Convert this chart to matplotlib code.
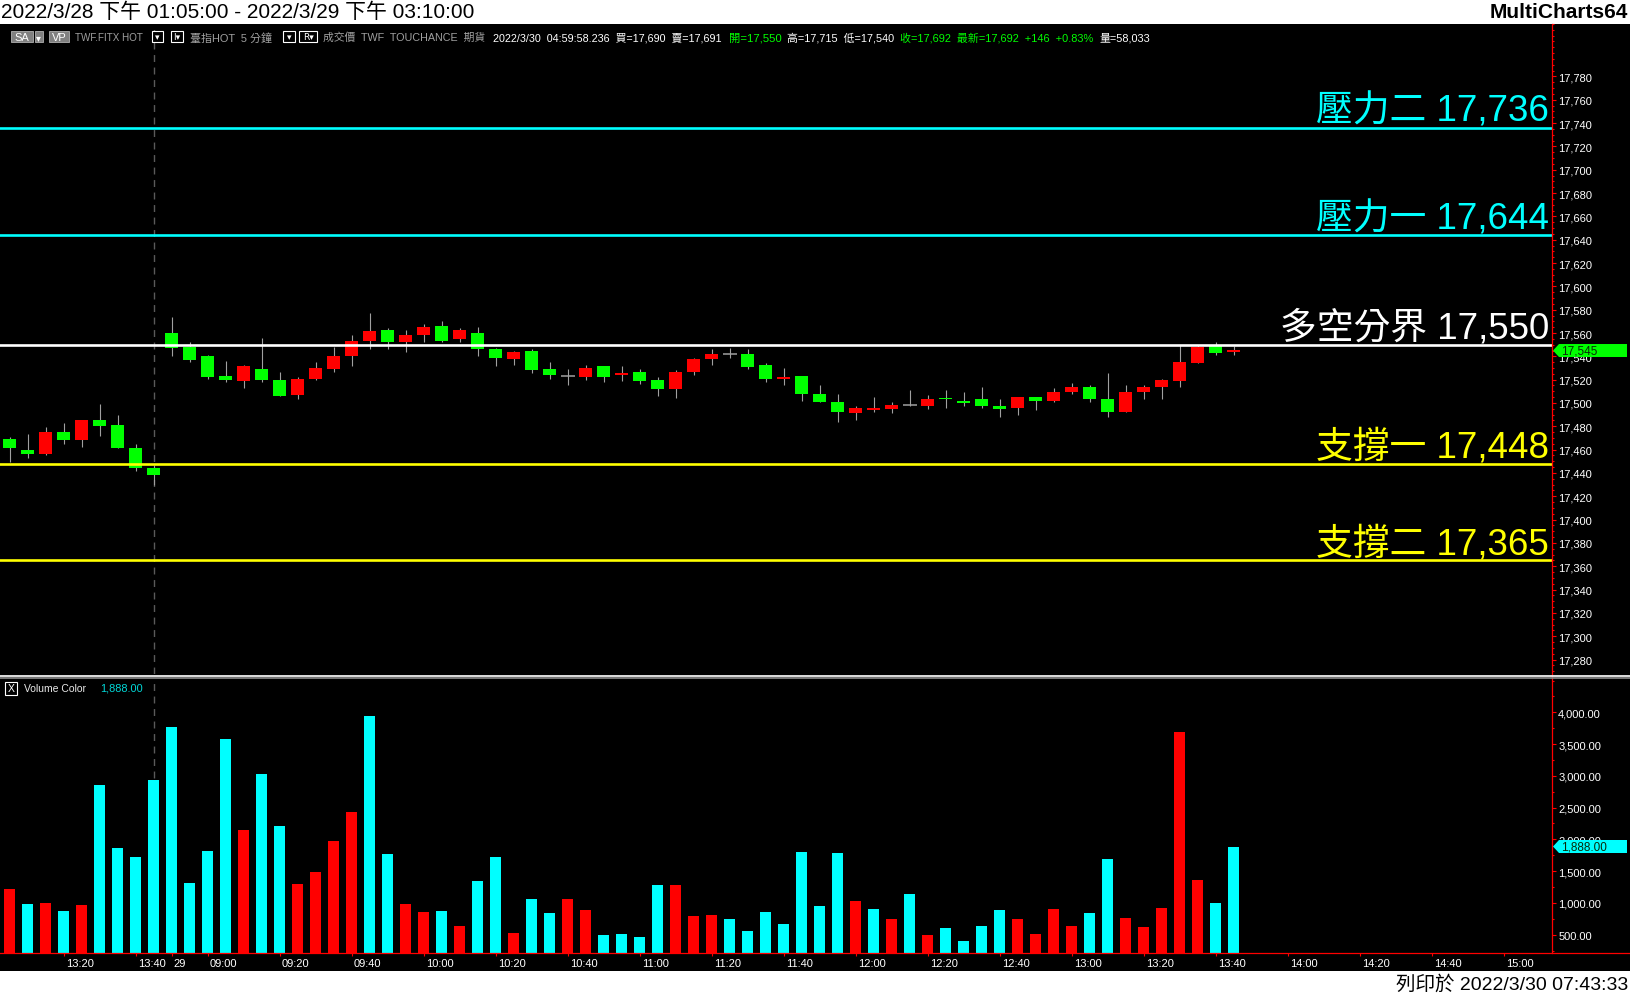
import numpy as np
import matplotlib
matplotlib.use("Agg")
import matplotlib.pyplot as plt
from matplotlib import font_manager
from matplotlib.patches import Rectangle, Polygon
from matplotlib.lines import Line2D
from matplotlib.ticker import MultipleLocator, FixedLocator, FuncFormatter

# 5-minute bars, 2022/3/28 13:05 .. 13:45, then 2022/3/29 08:50 .. 13:45
opens = [17469, 17460, 17456, 17475, 17468, 17485, 17481, 17461, 17444,
         17560, 17548, 17540, 17523, 17519, 17529, 17520, 17507, 17521, 17529,
         17540, 17553, 17563, 17552, 17558, 17566, 17555, 17560, 17546, 17538,
         17545, 17529, 17523, 17522, 17532, 17524, 17527, 17520, 17512, 17527,
         17538, 17542, 17542, 17533, 17521, 17523, 17508, 17501, 17491, 17494,
         17495, 17498, 17497, 17504, 17502, 17503, 17497, 17496, 17505, 17502,
         17509, 17514, 17503, 17492, 17509, 17514, 17519, 17534, 17549, 17544]
highs = [17471, 17473, 17479, 17483, 17485, 17499, 17490, 17465, 17447,
         17574, 17552, 17541, 17536, 17533, 17556, 17527, 17522, 17535, 17548,
         17558, 17577, 17564, 17563, 17568, 17570, 17564, 17565, 17547, 17545,
         17546, 17535, 17529, 17533, 17532, 17532, 17529, 17522, 17528, 17539,
         17546, 17547, 17546, 17534, 17530, 17523, 17515, 17508, 17497, 17505,
         17501, 17511, 17507, 17511, 17509, 17514, 17503, 17505, 17505, 17513,
         17517, 17515, 17526, 17515, 17515, 17521, 17550, 17550, 17552, 17549]
lows = [17449, 17453, 17455, 17465, 17462, 17472, 17461, 17442, 17430,
        17540, 17535, 17521, 17518, 17513, 17518, 17506, 17503, 17520, 17527,
        17532, 17546, 17546, 17544, 17552, 17552, 17552, 17540, 17532, 17533,
        17526, 17521, 17515, 17520, 17518, 17519, 17516, 17506, 17504, 17524,
        17533, 17539, 17529, 17518, 17515, 17502, 17501, 17484, 17485, 17492,
        17491, 17497, 17495, 17496, 17497, 17496, 17488, 17490, 17494, 17501,
        17508, 17501, 17488, 17492, 17503, 17503, 17514, 17534, 17541, 17541]
closes = [17461, 17456, 17475, 17468, 17485, 17480, 17461, 17444, 17438,
          17547, 17537, 17522, 17520, 17532, 17520, 17506, 17521, 17530, 17540,
          17553, 17562, 17552, 17558, 17565, 17553, 17563, 17546, 17539, 17544,
          17528, 17524, 17523, 17530, 17522, 17526, 17519, 17512, 17527, 17538,
          17542, 17542, 17531, 17521, 17522, 17508, 17501, 17492, 17496, 17496,
          17498, 17498, 17503, 17503, 17500, 17497, 17495, 17505, 17502, 17509,
          17514, 17503, 17492, 17509, 17514, 17520, 17535, 17548, 17543, 17545]
volumes = [1219, 983, 999, 873, 967, 2856, 1864, 1723, 2935,
           3769, 1314, 1817, 3580, 2148, 3029, 2211, 1298, 1487, 1975,
           2431, 3942, 1770, 983, 857, 873, 637, 1345, 1723, 527,
           1062, 841, 1062, 889, 495, 511, 464, 1282, 1282, 794,
           810, 747, 558, 857, 668, 1802, 952, 1786, 1030, 904,
           747, 1140, 495, 605, 401, 637, 889, 747, 511, 904,
           637, 841, 1691, 763, 621, 920, 3690, 1361, 999, 1888]
vol_up = [1, 0, 1, 0, 1, 0, 0, 0, 0,
          0, 0, 0, 0, 1, 0, 0, 1, 1, 1,
          1, 0, 0, 1, 1, 0, 1, 0, 0, 1,
          0, 0, 1, 1, 0, 0, 0, 0, 1, 1,
          1, 0, 0, 0, 0, 0, 0, 0, 1, 0,
          1, 0, 1, 0, 0, 0, 0, 1, 1, 1,
          1, 0, 0, 1, 1, 1, 1, 1, 0, 0]

tick_bars = [3, 7, 9, 11, 15, 19, 23, 27, 31, 35, 39, 43, 47, 51, 55, 59,
             63, 67, 71, 75, 79, 83]
tick_labels = ["13:20", "13:40", "29", "09:00", "09:20", "09:40", "10:00",
               "10:20", "10:40", "11:00", "11:20", "11:40", "12:00", "12:20",
               "12:40", "13:00", "13:20", "13:40", "14:00", "14:20", "14:40",
               "15:00"]
session_break = 8

levels = [17736, 17644, 17550, 17448, 17365]
level_names = ["壓力二", "壓力一", "多空分界", "支撐一", "支撐二"]
level_colors = ["#00ffff", "#00ffff", "#ffffff", "#ffff00", "#ffff00"]

last_price = 17545
last_volume = 1888.00

# ---- fonts ----
have = {f.name for f in font_manager.fontManager.ttflist}
NARROW = "Liberation Sans Narrow" if "Liberation Sans Narrow" in have else "Liberation Sans"
SMALL = [NARROW, "Noto Sans CJK TC", "DejaVu Sans"]
BIG = ["Liberation Sans", "Noto Sans CJK TC", "DejaVu Sans"]
plt.rcParams["font.family"] = SMALL

W, H = 1630, 995
fig = plt.figure(figsize=(W / 100, H / 100), dpi=100, facecolor="white")
renderer = fig.canvas.get_renderer()


def fx(px):
    return px / W


def fy(py):
    return 1 - py / H


def rect(x0, y0, x1, y1, **kw):
    fig.add_artist(Rectangle((fx(x0), fy(y1)), (x1 - x0) / W, (y1 - y0) / H,
                             transform=fig.transFigure, **kw))


def hline(y, x0, x1, **kw):
    fig.add_artist(Line2D([fx(x0), fx(x1)], [fy(y), fy(y)], transform=fig.transFigure, **kw))


def fit(t, width):
    # shrink a text until it fits the width it has in the reference
    bb = t.get_window_extent(renderer)
    if bb.width > width:
        t.set_fontsize(t.get_fontsize() * width / bb.width)
    return t


# black chart area
rect(0, 25, W, 972, facecolor="black", edgecolor="none", zorder=-5)

AX_R = 1552
ax = fig.add_axes([0, fy(675), AX_R / W, (675 - 25) / H])
axv = fig.add_axes([0, fy(954), AX_R / W, (954 - 680) / H])

x = np.arange(len(opens))
o = np.array(opens)
c = np.array(closes)
for a in (ax, axv):
    a.set_facecolor("black")
    for s in a.spines.values():
        s.set_visible(False)
    a.set_xlim(-0.54, 85.68)
    a.axvline(session_break, color="#5a5a5a", lw=1, dashes=(5, 4), zorder=1)

# ---- candles ----
ax.vlines(x, lows, highs, color="#a0a0a0", lw=0.8, zorder=2)
body = c != o
col = np.where(c > o, "#ff0000", "#00ff00")
ax.bar(x[body], np.maximum(np.abs(c - o), 1.5)[body], bottom=np.minimum(o, c)[body],
       width=0.72, color=col[body], linewidth=0, zorder=3)
doji = ~body
ax.hlines(o[doji], x[doji] - 0.39, x[doji] + 0.39, color="#a0a0a0", lw=1.1, zorder=3)

ax.set_ylim(17267.6, 17825.0)
ax.set_xticks([])
ax.yaxis.tick_right()
ax.yaxis.set_major_locator(FixedLocator(np.arange(17280, 17781, 20)))
ax.yaxis.set_minor_locator(MultipleLocator(5))
ax.yaxis.set_major_formatter(FuncFormatter(lambda v, p: f"{int(v):,}"))
ax.tick_params(axis="y", which="major", colors="red", labelcolor="white",
               length=3, width=0.8, pad=1.5, labelsize=8)
ax.tick_params(axis="y", which="minor", colors="red", length=1.5, width=0.8)

for lv, name, lc in zip(levels, level_names, level_colors):
    ax.axhline(lv, color=lc, lw=1.9, zorder=5)
    ax.annotate(f"{name} {lv:,}", xy=(1, lv), xycoords=("axes fraction", "data"),
                xytext=(-3, 7), textcoords="offset pixels", ha="right", va="baseline",
                fontsize=26.5, color=lc, family=BIG, zorder=6)

# ---- volume ----
vcol = ["#ff0000" if u else "#00ffff" for u in vol_up]
axv.bar(x, volumes, width=0.61, color=vcol, linewidth=0, zorder=2)
axv.set_ylim(212, 4524)
axv.yaxis.tick_right()
axv.yaxis.set_major_locator(FixedLocator(np.arange(500, 4001, 500)))
axv.yaxis.set_minor_locator(MultipleLocator(250))
axv.yaxis.set_major_formatter(FuncFormatter(lambda v, p: f"{v:,.2f}"))
axv.tick_params(axis="y", which="major", colors="red", labelcolor="white",
                length=3, width=0.8, pad=1.5, labelsize=8)
axv.tick_params(axis="y", which="minor", colors="red", length=1.5, width=0.8)
axv.set_xticks(tick_bars)
axv.tick_params(axis="x", colors="red", length=2.5, width=0.8, labelbottom=False)
for b, lab in zip(tick_bars, tick_labels):
    axv.annotate(lab, xy=(b, 0), xycoords=("data", "axes fraction"), xytext=(2, -10),
                 textcoords="offset pixels", ha="left", va="center", color="white",
                 fontsize=8, annotation_clip=False)

# ---- axis frame lines ----
fig.add_artist(Line2D([fx(AX_R), fx(AX_R)], [fy(25), fy(954)], color="red", lw=0.9,
                      transform=fig.transFigure))
hline(954, 0, W, color="red", lw=0.9)
hline(676.6, 0, W, color="#f0f0f0", lw=1.3)
hline(678.8, 0, W, color="#8c8c8c", lw=1.2)


# ---- last value markers ----
def marker(yc, text, color):
    pts = [(1553, yc), (1559, yc - 6.5), (1627, yc - 6.5), (1627, yc + 6.5), (1559, yc + 6.5)]
    fig.add_artist(Polygon([(fx(px), fy(py)) for px, py in pts], closed=True,
                           facecolor=color, edgecolor="none", transform=fig.transFigure,
                           zorder=10))
    fig.text(fx(1561), fy(yc), text, ha="left", va="center", fontsize=8.5,
             color="#0a2a0a", zorder=11)


yp = H - ax.transData.transform((0, last_price))[1]
marker(yp, f"{last_price:,}", "#00ff00")
yv = H - axv.transData.transform((0, last_volume))[1]
marker(yv, f"{last_volume:,.2f}", "#00ffff")

# ---- header texts ----
fig.text(fx(1), fy(12.5), "2022/3/28 下午 01:05:00 - 2022/3/29 下午 03:10:00",
         ha="left", va="center", fontsize=15, family=BIG, color="black")
fig.text(fx(1628), fy(12.5), "MultiCharts64", ha="right", va="center", fontsize=15,
         weight="bold", family=BIG, color="black")
fig.text(fx(1628), fy(984), "列印於 2022/3/30 07:43:33", ha="right", va="center",
         fontsize=14, family=BIG, color="black")

HY = 38
rect(10.7, 32.3, 33.3, 43.3, facecolor="#808080", edgecolor="#b0b0b0", lw=0.6)
fig.text(fx(22), fy(HY), "SA", ha="center", va="center", fontsize=8, color="white")
rect(34.5, 32.3, 43, 43.3, facecolor="#808080", edgecolor="#b0b0b0", lw=0.6)
fig.text(fx(38.8), fy(HY), "▾", ha="center", va="center", fontsize=7, color="white",
         family="DejaVu Sans")
rect(49, 32.3, 69, 43.3, facecolor="#808080", edgecolor="#b0b0b0", lw=0.6)
fig.text(fx(59), fy(HY), "VP", ha="center", va="center", fontsize=8, color="white")
for bx0, bx1, t in [(152, 163, "▾"), (171, 183, "I▾"), (283, 295, "▾"), (299, 317, "R▾")]:
    rect(bx0, 32.3, bx1, 43.3, facecolor="black", edgecolor="white", lw=0.8)
    fig.text(fx((bx0 + bx1) / 2), fy(HY), t, ha="center", va="center", fontsize=6.5,
             color="white", family="DejaVu Sans")
hdr = [
    (75, 143, "TWF.FITX HOT", "#a0a0a0"),
    (190, 273, "臺指HOT  5 分鐘", "#a0a0a0"),
    (323, 487, "成交價  TWF  TOUCHANCE  期貨", "#a0a0a0"),
    (493, 724, "2022/3/30  04:59:58.236  買=17,690  賣=17,691", "#ffffff"),
    (729, 782, "開=17,550", "#00ff00"),
    (787, 895, "高=17,715  低=17,540", "#ffffff"),
    (900, 1094, "收=17,692  最新=17,692  +146  +0.83%", "#00ff00"),
    (1100, 1151, "量=58,033", "#ffffff"),
]
for hx0, hx1, t, tc in hdr:
    fit(fig.text(fx(hx0), fy(HY), t, ha="left", va="center", fontsize=8.7, color=tc),
        hx1 - hx0)

# volume pane caption
rect(4.5, 682.5, 17, 695.5, facecolor="black", edgecolor="white", lw=0.8)
fig.text(fx(10.8), fy(689), "X", ha="center", va="center", fontsize=7.5, color="white")
fit(fig.text(fx(24.5), fy(689), "Volume Color", ha="left", va="center", fontsize=8.7,
             color="#e8e8e8"), 63)
fit(fig.text(fx(100), fy(689), f"{last_volume:,.2f}", ha="left", va="center",
             fontsize=8.7, color="#00d8d8"), 43)

fig.savefig("out.png", dpi=100, facecolor="white")
